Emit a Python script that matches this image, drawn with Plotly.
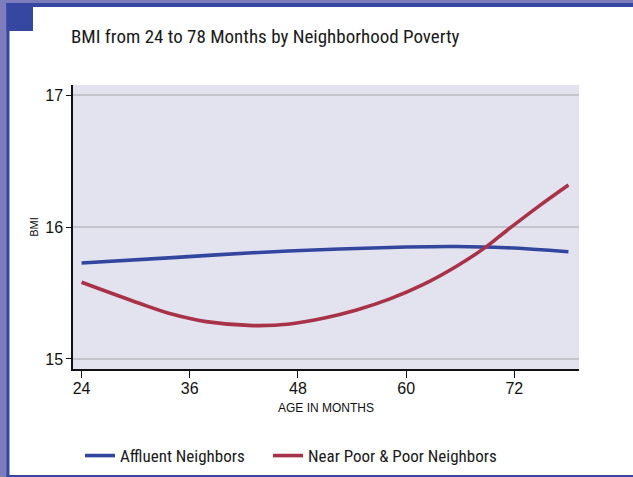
import plotly.graph_objects as go

# Data
months_affluent = [24, 34.1, 43, 52.6, 60, 65.5, 71.1, 78]
bmi_affluent = [15.727, 15.768, 15.805, 15.833, 15.848, 15.852, 15.843, 15.813]

months_poor = [24, 30.4, 34.1, 37.8, 43, 47.1, 50.8, 54.5, 58.2, 61.8, 65.5, 68.9, 71.1, 74.8, 78]
bmi_poor = [15.581, 15.422, 15.338, 15.283, 15.253, 15.265, 15.308, 15.371, 15.455,
            15.561, 15.699, 15.851, 15.970, 16.162, 16.318]

x_ticks = [24, 36, 48, 60, 72]
y_ticks = [15, 16, 17]

series_names = ["Affluent Neighbors", "Near Poor & Poor Neighbors"]
series_colors = ["#33469E", "#A83348"]

W, H = 633, 477
ML, MR, MT, MB = 73, 54, 85, 108
PW, PH = W - ML - MR, H - MT - MB

NARROW = "Liberation Sans Narrow, Arial Narrow, Roboto Condensed, sans-serif"
SANS = "Liberation Sans, Arial, Helvetica, sans-serif"


def px_x(px):
    return (px - ML) / PW


def px_y(py):
    return (H - MB - py) / PH


fig = go.Figure()
fig.add_trace(go.Scatter(x=months_affluent, y=bmi_affluent, mode="lines",
                         name=series_names[0], legend="legend",
                         line=dict(color=series_colors[0], width=3.6, shape="spline")))
fig.add_trace(go.Scatter(x=months_poor, y=bmi_poor, mode="lines",
                         name=series_names[1], legend="legend2",
                         line=dict(color=series_colors[1], width=3.6, shape="spline")))

light = "#7D7DBE"
dark = "#3547A0"
shapes = []


def rect(x0, y0, x1, y1, color):
    shapes.append(dict(type="rect", xref="paper", yref="paper",
                       x0=px_x(x0), x1=px_x(x1), y0=px_y(y1), y1=px_y(y0),
                       fillcolor=color, line=dict(width=0), layer="above"))


rect(0, 0, 7, H, light)
rect(0, 0, W, 3, light)
rect(6.5, 3, 9.5, H, dark)
rect(6.5, 3, W, 7, dark)
rect(6.5, 3, 33, 31, dark)
rect(6.5, 475, W, H, dark)

legend_common = dict(orientation="h", xanchor="left", yanchor="middle", y=px_y(456),
                     font=dict(family=NARROW, size=17, color="#1a1a1a"),
                     bgcolor="rgba(0,0,0,0)", itemwidth=30)

fig.update_layout(
    width=W, height=H,
    margin=dict(l=ML, r=MR, t=MT, b=MB, pad=0, autoexpand=False),
    paper_bgcolor="white",
    plot_bgcolor="#E3E3F0",
    shapes=shapes,
    title=dict(text="BMI from 24 to 78 Months by Neighborhood Poverty",
               x=71 / W, xanchor="left", xref="container",
               y=1 - 36.5 / H, yanchor="middle", yref="container",
               font=dict(family=NARROW, size=19, color="#1a1a1a")),
    showlegend=True,
    legend=dict(x=px_x(80), **legend_common),
    legend2=dict(x=px_x(268), **legend_common),
    xaxis=dict(range=[23.05, 79.17], tickvals=x_ticks, ticktext=[str(v) for v in x_ticks],
               showgrid=False, zeroline=False, automargin=False,
               showline=True, linecolor="#111111", linewidth=1.5,
               ticks="outside", ticklen=7, tickwidth=1, tickcolor="#111111",
               ticklabelstandoff=-3,
               tickfont=dict(family=SANS, size=16, color="#111111"),
               title=dict(text="AGE IN MONTHS", standoff=8,
                          font=dict(family=SANS, size=12, color="#111111"))),
    yaxis=dict(range=[14.924, 17.076], tickvals=y_ticks, ticktext=[str(v) for v in y_ticks],
               showgrid=True, gridcolor="#C4C4CC", gridwidth=1.5, zeroline=False,
               automargin=False,
               showline=True, linecolor="#111111", linewidth=1.5,
               ticks="outside", ticklen=5, tickwidth=1, tickcolor="#111111",
               tickfont=dict(family=SANS, size=16, color="#111111"),
               title=dict(text="BMI", standoff=4,
                          font=dict(family=SANS, size=11, color="#111111"))),
)

fig.write_html("out.html", config={"displayModeBar": False},
               post_script="document.body.style.margin='0';document.body.style.overflow='hidden';")
